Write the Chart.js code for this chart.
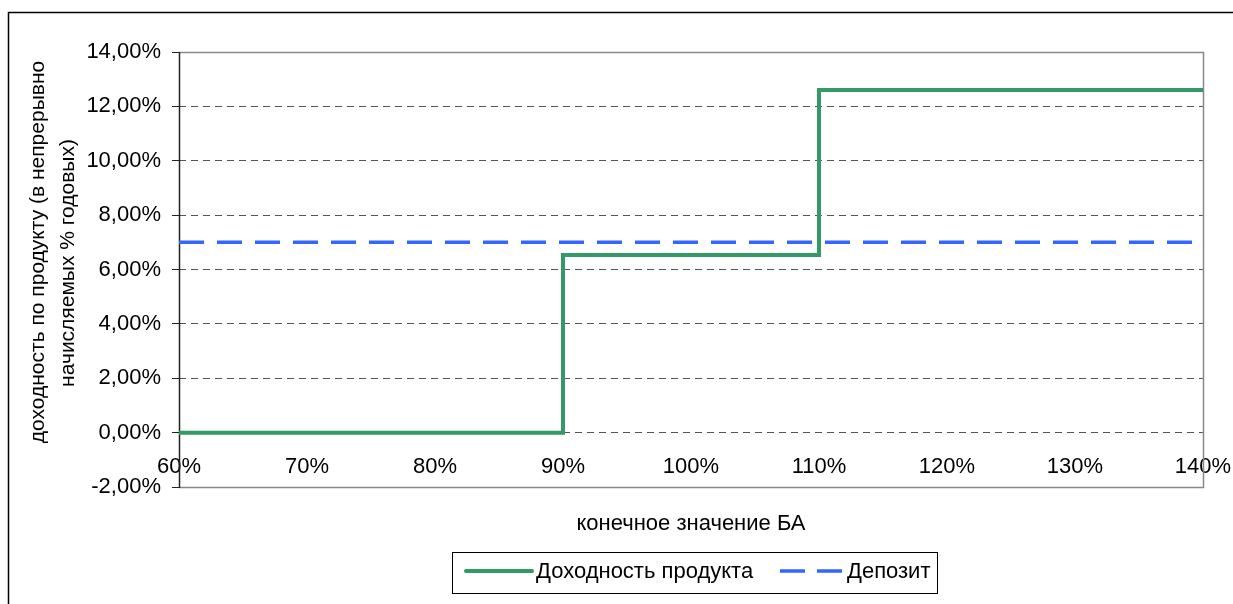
<!DOCTYPE html>
<html>
<head>
<meta charset="utf-8">
<script src="https://cdn.jsdelivr.net/npm/chart.js@4/dist/chart.umd.min.js"></script>
<style>
  html, body { margin: 0; padding: 0; background: #fff; }
  #wrap { width: 1233px; height: 604px; }
</style>
</head>
<body>
<div id="wrap"><canvas id="yieldChart" width="1233" height="604"></canvas></div>
<script>
// final underlying value, % of initial level
const productX = [60, 90, 90, 110, 110, 140];
// product yield, continuously compounded % p.a.
const productY = [0, 0, 6.53, 6.53, 12.6, 12.6];
const depositX = [60, 140];
const depositY = [7, 7];

const seriesNames = ['Доходность продукта', 'Депозит'];
const xTitle = 'конечное значение БА';
const yTitle = ['доходность по продукту (в непрерывно', 'начисляемых % годовых)'];

const FONT = '"Liberation Sans", Arial, sans-serif';
const FONT_SIZE = 22;

function toPoints(xs, ys) {
  return xs.map((x, i) => ({ x: x, y: ys[i] }));
}

// frame, plot border, axis titles and boxed legend
const decorations = {
  id: 'decorations',
  beforeDraw(chart) {
    const ctx = chart.ctx;
    ctx.save();
    ctx.strokeStyle = '#000';
    ctx.lineWidth = 1.5;
    ctx.strokeRect(8.5, 12.5, 1400, 800);
    ctx.restore();
  },
  beforeDatasetsDraw(chart) {
    const { ctx, chartArea: a } = chart;
    ctx.save();
    ctx.strokeStyle = '#888';
    ctx.lineWidth = 1.5;
    ctx.beginPath();
    ctx.moveTo(a.left, a.top + 0.5);
    ctx.lineTo(a.right + 0.5, a.top + 0.5);
    ctx.lineTo(a.right + 0.5, a.bottom + 0.5);
    ctx.lineTo(a.left, a.bottom + 0.5);
    ctx.stroke();
    ctx.strokeStyle = '#222';
    ctx.lineWidth = 1.5;
    ctx.beginPath();
    ctx.moveTo(a.left + 0.5, a.top);
    ctx.lineTo(a.left + 0.5, a.bottom + 1);
    ctx.stroke();
    ctx.restore();
  },
  afterDraw(chart) {
    const ctx = chart.ctx;
    ctx.save();
    ctx.fillStyle = '#000';
    ctx.font = FONT_SIZE + 'px ' + FONT;
    ctx.textAlign = 'center';
    ctx.textBaseline = 'middle';
    ctx.fillText(xTitle, 691, 524);

    ctx.save();
    ctx.font = '21px ' + FONT;
    ctx.translate(38, 252);
    ctx.rotate(-Math.PI / 2);
    ctx.fillText(yTitle[0], 0, 0);
    ctx.fillText(yTitle[1], -11, 30);
    ctx.restore();

    // legend
    ctx.strokeStyle = '#000';
    ctx.lineWidth = 1;
    ctx.strokeRect(452.5, 552.5, 485, 41);
    const entries = [
      { x1: 466, x2: 532, tx: 536 },
      { x1: 780, x2: 843, tx: 847 }
    ];
    chart.data.datasets.forEach((ds, i) => {
      const e = entries[i];
      ctx.save();
      ctx.strokeStyle = ds.borderColor;
      ctx.lineWidth = ds.borderWidth;
      ctx.lineCap = i === 0 ? 'round' : 'butt';
      ctx.setLineDash(i === 0 ? [] : [25, 12]);
      ctx.beginPath();
      ctx.moveTo(e.x1, 571);
      ctx.lineTo(e.x2, 571);
      ctx.stroke();
      ctx.restore();
      ctx.textAlign = 'left';
      ctx.fillText(ds.label, e.tx, 572);
    });
    ctx.restore();
  }
};

new Chart(document.getElementById('yieldChart'), {
  type: 'line',
  data: {
    datasets: [
      {
        label: seriesNames[0],
        data: toPoints(productX, productY),
        borderColor: '#339966',
        borderWidth: 4,
        borderJoinStyle: 'miter',
        pointRadius: 0,
        tension: 0,
        fill: false
      },
      {
        label: seriesNames[1],
        data: toPoints(depositX, depositY),
        borderColor: '#3366ff',
        borderWidth: 3.5,
        borderDash: [25, 13],
        pointRadius: 0,
        tension: 0,
        fill: false
      }
    ]
  },
  options: {
    responsive: false,
    animation: false,
    devicePixelRatio: 1,
    layout: { padding: { left: 0, top: 52, right: 30, bottom: 117 } },
    plugins: {
      legend: { display: false },
      tooltip: { enabled: false }
    },
    scales: {
      x: {
        type: 'linear',
        position: { y: 0 },
        min: 60,
        max: 140,
        afterFit: s => { s.paddingLeft = 0; s.paddingRight = 0; },
        grid: { display: false },
        border: { display: false },
        ticks: {
          stepSize: 10,
          padding: 13,
          color: '#000',
          font: { family: FONT, size: FONT_SIZE },
          maxRotation: 0,
          callback: v => v + '%'
        }
      },
      y: {
        min: -2,
        max: 14,
        afterFit: s => { s.width = 179; },
        grid: {
          color: '#555',
          lineWidth: 1,
          tickLength: 7,
          tickColor: '#222'
        },
        border: { display: false, dash: [7, 5] },
        ticks: {
          stepSize: 2,
          padding: 11,
          color: '#000',
          font: { family: FONT, size: FONT_SIZE },
          callback: v => v.toFixed(2).replace('.', ',') + '%'
        }
      }
    }
  },
  plugins: [decorations]
});
</script>
</body>
</html>
